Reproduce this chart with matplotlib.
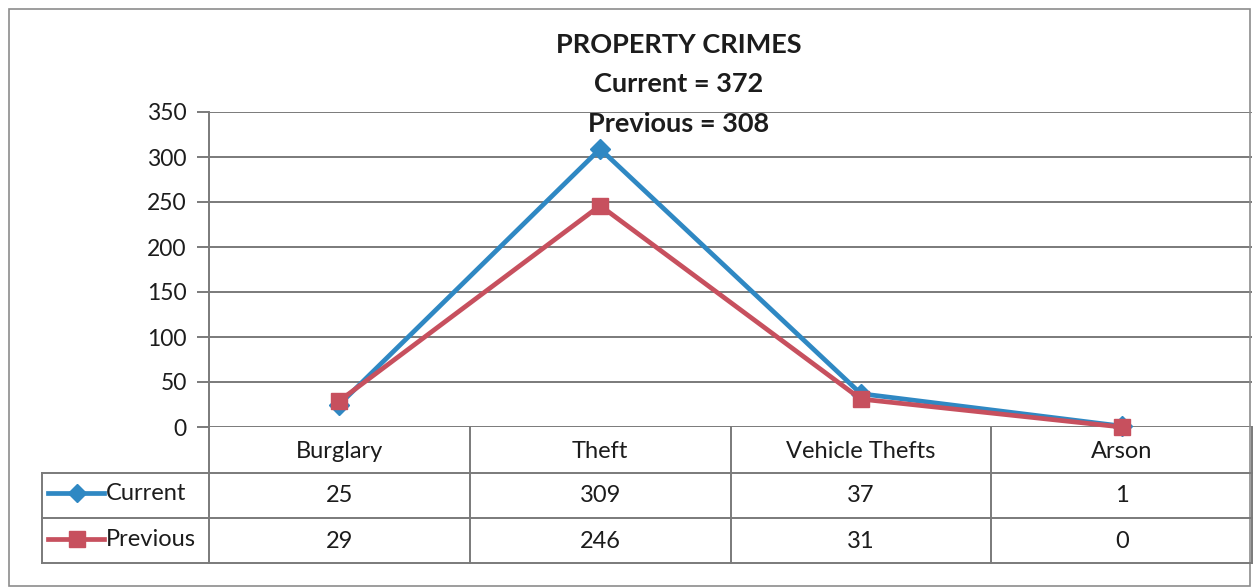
import matplotlib
matplotlib.use('Agg')
import matplotlib.pyplot as plt
from matplotlib.lines import Line2D
from matplotlib.patches import Rectangle

categories = ['Burglary', 'Theft', 'Vehicle Thefts', 'Arson']
current = [25, 309, 37, 1]
previous = [29, 246, 31, 0]
series_names = ['Current', 'Previous']
title_lines = ['PROPERTY CRIMES', 'Current = 372', 'Previous = 308']
yticks = [0, 50, 100, 150, 200, 250, 300, 350]

BLUE = '#2f88c3'
RED = '#c7505e'
GRID = '#7a7a7a'
TXT = '#1c1c1c'

plt.rcParams['font.family'] = ['Lato', 'DejaVu Sans']

W, H = 1254, 588
fig = plt.figure(figsize=(W / 100, H / 100), dpi=100)

def fx(px):
    return px / W

def fy(py):
    return 1 - py / H

# outer chart border
fig.add_artist(Rectangle((fx(9), fy(586)), fx(1250) - fx(9), fy(9) - fy(586),
                         transform=fig.transFigure, fill=False, ec='#8c8c8c', lw=1.2))

ax_left, ax_right, ax_top, ax_bot = 209, 1252, 112, 427
ax = fig.add_axes([fx(ax_left), fy(ax_bot), fx(ax_right) - fx(ax_left), fy(ax_top) - fy(ax_bot)])

x = list(range(len(categories)))
ax.plot(x, current, color=BLUE, lw=3.4, marker='D', ms=10, mfc=BLUE, mec=BLUE, zorder=3, clip_on=False)
ax.plot(x, previous, color=RED, lw=3.4, marker='s', ms=12, mfc=RED, mec=RED, zorder=4, clip_on=False)

ax.set_xlim(-0.5, len(categories) - 0.5)
ax.set_ylim(0, 350)
ax.set_yticks(yticks)
ax.set_xticks([])
ax.yaxis.grid(True, color=GRID, lw=1.4)
ax.set_axisbelow(True)
for s in ['top', 'right', 'bottom']:
    ax.spines[s].set_visible(False)
ax.spines['left'].set_color(GRID)
ax.spines['left'].set_linewidth(1.4)
ax.tick_params(axis='y', length=9, width=1.4, color=GRID, labelsize=16.5, labelcolor=TXT, pad=7)

# data table under the plot
row_lines = [473, 518, 563]
tbl_left = 42
ln = dict(color=GRID, lw=1.4, transform=fig.transFigure)
for py in row_lines:
    fig.add_artist(Line2D([fx(tbl_left), fx(ax_right)], [fy(py), fy(py)], **ln))
fig.add_artist(Line2D([fx(tbl_left), fx(tbl_left)], [fy(row_lines[0]), fy(row_lines[-1])], **ln))

trans = ax.get_xaxis_transform()
bottom_axes = (row_lines[-1] - ax_bot) / (ax_bot - ax_top)
for b in [i - 0.5 for i in range(len(categories) + 1)]:
    ax.plot([b, b], [0, -bottom_axes], transform=trans, color=GRID, lw=1.4, clip_on=False)

def axes_y(py):
    return -(py - ax_bot) / (ax_bot - ax_top)

fs = 17
header_y = axes_y(451)
row_y = [axes_y(495), axes_y(541)]
for i, c in enumerate(categories):
    ax.text(i, header_y, c, transform=trans, ha='center', va='center', fontsize=fs, color=TXT)
    ax.text(i, row_y[0], str(current[i]), transform=trans, ha='center', va='center', fontsize=fs, color=TXT)
    ax.text(i, row_y[1], str(previous[i]), transform=trans, ha='center', va='center', fontsize=fs, color=TXT)

# legend keys in the table
keys = [(BLUE, 'D', 9), (RED, 's', 12)]
for (col, mk, ms), name, py in zip(keys, series_names, [493, 539]):
    fig.add_artist(Line2D([fx(48), fx(104)], [fy(py), fy(py)], color=col, lw=3.4,
                          transform=fig.transFigure))
    fig.add_artist(Line2D([fx(77)], [fy(py)], color=col, marker=mk, ms=ms, mfc=col, mec=col,
                          transform=fig.transFigure))
    fig.text(fx(106), fy(py + 1), name, ha='left', va='center', fontsize=fs, color=TXT)

for line, py in zip(title_lines, [45, 84, 124]):
    fig.text(fx(679), fy(py), line, ha='center', va='center', fontsize=19.5, fontweight='bold', color=TXT)

fig.savefig('out.png', dpi=100)
